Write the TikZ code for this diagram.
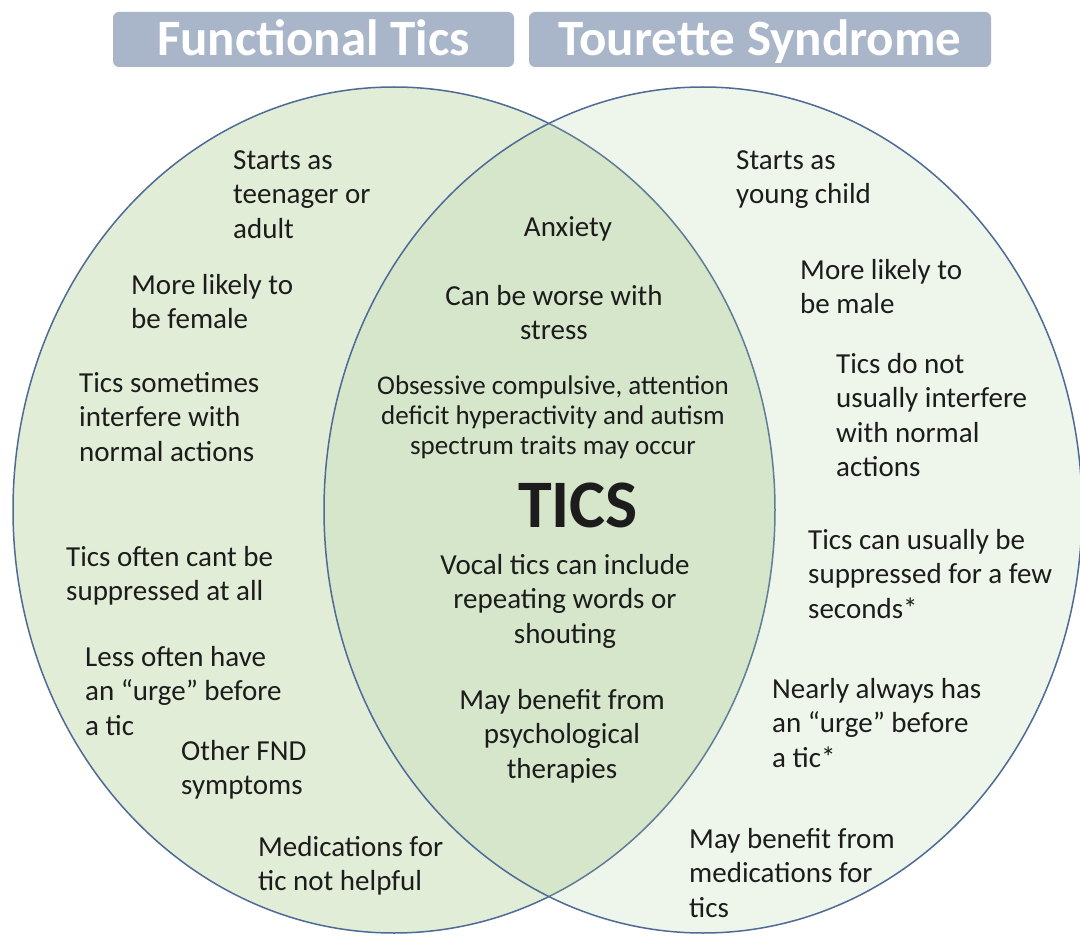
\documentclass[tikz,border=0pt]{standalone}
\usepackage{fontspec}
\setmainfont{Carlito}
\definecolor{leftfill}{RGB}{226,237,216}
\definecolor{rightfill}{RGB}{170,205,150}
\definecolor{vline}{RGB}{78,106,150}
\definecolor{titlefill}{RGB}{169,181,201}
\definecolor{ink}{RGB}{28,28,28}
\begin{document}
\begin{tikzpicture}[x=1pt,y=-1pt,
  vennline/.style={draw=vline, line width=1.5pt},
  txt/.style={font=\fontsize{29}{34.5}\selectfont, text=ink, inner sep=0pt, align=left, anchor=north west},
  ctxt/.style={txt, align=center, anchor=north},
  smalltxt/.style={ctxt, font=\fontsize{27}{30}\selectfont},
  bigtxt/.style={font=\bfseries\fontsize{68}{70}\selectfont, text=ink, inner sep=0pt},
  titlebox/.style={fill=titlefill, rounded corners=6pt, text=white, font=\bfseries\fontsize{51}{54}\selectfont, text height=33pt, text depth=0pt, inner sep=0pt}
]
\useasboundingbox (0,0) rectangle (1080,936);
\fill[white] (0,0) rectangle (1080,936);
% circles
\draw[vennline, fill=leftfill] (394,510) ellipse [x radius=381, y radius=423];
\draw[vennline, fill=rightfill, fill opacity=0.2] (703,510) ellipse [x radius=379, y radius=423];
% titles
\node[titlebox, minimum width=401pt, minimum height=55pt] (ft) at (313.5,39.5) {Functional Tics};
\node[titlebox, minimum width=462pt, minimum height=55pt] (ts) at (760,39.5) {Tourette Syndrome};
% left texts
\node[txt] (l1) at (233,145) {\strut Starts as\\teenager or\\adult};
\node[txt] (l2) at (131,270) {\strut More likely to\\be female};
\node[txt] (l3) at (79,368) {\strut Tics sometimes\\interfere with\\normal actions};
\node[txt] (l4) at (66,542) {\strut Tics often cant be\\suppressed at all};
\node[txt] (l5) at (85,642) {\strut Less often have\\an “urge” before\\a tic};
\node[txt] (l6) at (181,736) {\strut Other FND\\symptoms};
\node[txt] (l7) at (258,832) {\strut Medications for\\tic not helpful};
% middle texts
\node[ctxt] (m1) at (568,212) {\strut Anxiety};
\node[ctxt] (m2) at (554,281) {\strut Can be worse with\\stress};
\node[smalltxt] (m3) at (553,373) {\strut Obsessive compulsive, attention\\deficit hyperactivity and autism\\spectrum traits may occur};
\node[bigtxt] (tics) at (578,505) {TICS};
\node[ctxt] (m4) at (565,550) {\strut Vocal tics can include\\repeating words or\\shouting};
\node[ctxt] (m5) at (562,685) {\strut May benefit from\\psychological\\therapies};
% right texts
\node[txt] (r1) at (736,145) {\strut Starts as\\young child};
\node[txt] (r2) at (800,255) {\strut More likely to\\be male};
\node[txt] (r3) at (836,349) {\strut Tics do not\\usually interfere\\with normal\\actions};
\node[txt] (r4) at (808,525) {\strut Tics can usually be\\suppressed for a few\\seconds*};
\node[txt] (r5) at (772,674) {\strut Nearly always has\\an “urge” before\\a tic*};
\node[txt] (r6) at (689,824) {\strut May benefit from\\medications for\\tics};
\end{tikzpicture}
\end{document}
